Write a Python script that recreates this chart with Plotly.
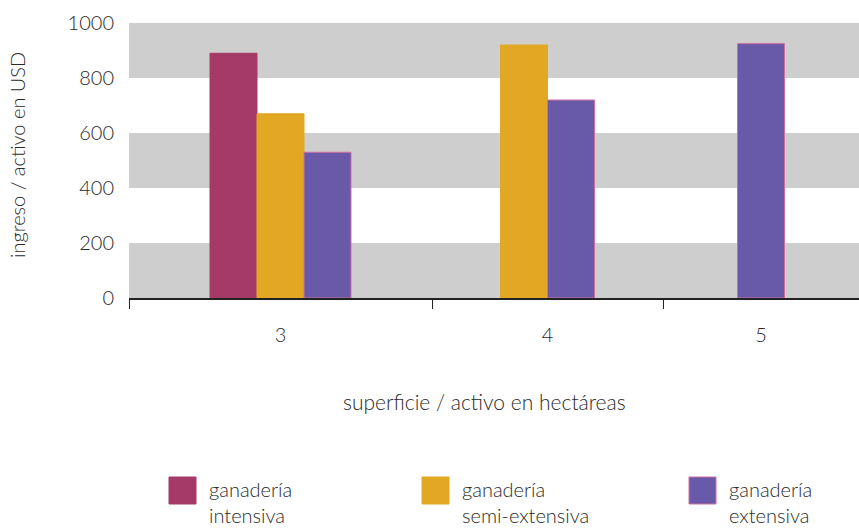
import plotly.graph_objects as go

# Income per worker by farm type and land per worker (hectares)
categories = ["3", "4", "5"]
series_names = ["ganadería<br>intensiva", "ganadería<br>semi-extensiva", "ganadería<br>extensiva"]
intensiva = [890, None, None]
semi_extensiva = [670, 920, None]
extensiva = [530, 720, 925]
y_ticks = [0, 200, 400, 600, 800, 1000]

series = [intensiva, semi_extensiva, extensiva]
colors = ["#a53a66", "#e2a824", "#685aa8"]
edge_colors = ["#a53a66", "#e2a824", "#cf6fa0"]

FONT = "Lato"
WEIGHT = 300
SIZE = 20
TEXT = "#2a2a2a"
W, H = 859, 530
plot_left, plot_right = 129, 859
plot_top, plot_bottom = 23, 298
cat_px = [303, 231, 196]     # width of each size class along the x axis
bar_px = 47                  # bar width in pixels

plot_w = plot_right - plot_left
plot_h = plot_bottom - plot_top


def px_x(px):
    return (px - plot_left) / plot_w


def px_y(py):
    return (plot_bottom - py) / plot_h


def font(size=SIZE):
    return dict(family=FONT, size=size, color=TEXT, weight=WEIGHT)


fig = go.Figure()

# one x axis per size class, sharing the income axis
edges = [0]
for w in cat_px:
    edges.append(edges[-1] + w)

for j, cat in enumerate(categories):
    xa = "x" if j == 0 else f"x{j + 1}"
    present = [i for i in range(len(series)) if series[i][j] is not None]
    n = len(present)
    w = bar_px / cat_px[j]
    for k, i in enumerate(present):
        fig.add_trace(go.Bar(
            x=[cat], y=[series[i][j]],
            xaxis=xa, yaxis="y",
            width=w, offset=-n * w / 2 + k * w,
            marker=dict(color=colors[i], line=dict(color=edge_colors[i], width=1)),
            name=series_names[i].replace("<br>", " "),
            showlegend=False,
            hoverinfo="y",
        ))
    axis = dict(
        domain=[edges[j] / plot_w, min(edges[j + 1] / plot_w, 1)],
        type="category", anchor="y", range=[-0.5, 0.5],
        tickson="boundaries", ticks="outside", ticklen=9, tickwidth=1.2,
        tickcolor="#222", showline=True, linecolor="#222", linewidth=1.5,
        showgrid=False, zeroline=False,
        tickfont=font(),
        ticklabelstandoff=18,
    )
    fig.layout["xaxis" if j == 0 else f"xaxis{j + 1}"] = axis

# alternating grey bands behind the bars
shapes = []
for a, b in zip(y_ticks[0::2], y_ticks[1::2]):
    shapes.append(dict(type="rect", xref="paper", yref="y", x0=0, x1=1, y0=a, y1=b,
                       fillcolor="#cecece", line=dict(width=0), layer="below"))

# legend keys
legend_px = [169, 422, 689]
key = 27
annotations = []
for i, name in enumerate(series_names):
    x0 = legend_px[i]
    shapes.append(dict(type="rect", xref="paper", yref="paper",
                       x0=px_x(x0), x1=px_x(x0 + key), y0=px_y(477 + key), y1=px_y(477),
                       fillcolor=colors[i], line=dict(color=edge_colors[i], width=1)))
    annotations.append(dict(text=name, xref="paper", yref="paper",
                            x=px_x(x0 + key + 11), y=px_y(502),
                            xanchor="left", yanchor="middle", align="left", showarrow=False,
                            font=font()))

annotations.append(dict(text="superficie / activo en hectáreas", xref="paper", yref="paper",
                        x=px_x(484), y=px_y(401), xanchor="center", yanchor="middle",
                        showarrow=False, font=font(21)))
annotations.append(dict(text="ingreso / activo en USD", xref="paper", yref="paper",
                        x=px_x(17), y=px_y(155), xanchor="center", yanchor="middle",
                        textangle=-90, showarrow=False, font=font()))

fig.update_layout(
    width=W, height=H,
    margin=dict(l=plot_left, r=W - plot_right, t=plot_top, b=H - plot_bottom, pad=0),
    paper_bgcolor="white", plot_bgcolor="white",
    barmode="overlay",
    showlegend=False,
    shapes=shapes,
    annotations=annotations,
    yaxis=dict(range=[0, 1000], tickvals=y_ticks, showgrid=False, zeroline=False,
               showline=False, ticks="",
               tickfont=font(),
               ticklabelstandoff=14),
)

fig.write_html("out.html")
